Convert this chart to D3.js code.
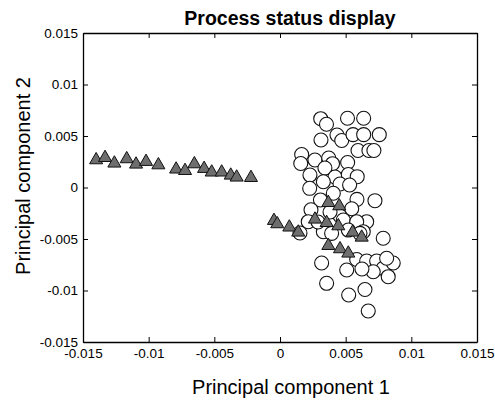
<!DOCTYPE html>
<html>
<head>
<meta charset="utf-8">
<script src="https://cdn.jsdelivr.net/npm/d3@7"></script>
<style>
  body { margin: 0; background: #fff; }
  text { font-family: "Liberation Sans", Arial, Helvetica, sans-serif; fill: #000; }
</style>
</head>
<body>
<div id="chart"></div>
<script>
// tick values and labels
var xTicks = [-0.015, -0.01, -0.005, 0, 0.005, 0.01, 0.015];
var xTickLabels = ["-0.015", "-0.01", "-0.005", "0", "0.005", "0.01", "0.015"];
var yTicks = [-0.015, -0.01, -0.005, 0, 0.005, 0.01, 0.015];
var yTickLabels = ["-0.015", "-0.01", "-0.005", "0", "0.005", "0.01", "0.015"];

// circles (normal operation)
var circleX = [0.00310, 0.00354, 0.00514, 0.00637, 0.00312, 0.00434, 0.00470, 0.00556, 0.00637, 0.00756,
  0.00594, 0.00677, 0.00715, 0.00165, 0.00266, 0.00371, 0.00515, 0.00158, 0.00400, 0.00342,
  0.00228, 0.00419, 0.00520, 0.00588, 0.00330, 0.00457, 0.00530, 0.00226, 0.00406, 0.00308,
  0.00586, 0.00723, 0.00546, 0.00236, 0.00457, 0.00660, 0.00215, 0.00330, 0.00393, 0.00482,
  0.00584, 0.00634, 0.00786, 0.00317, 0.00508, 0.00584, 0.00660, 0.00736, 0.00786, 0.00862,
  0.00710, 0.00624, 0.00824, 0.00355, 0.00523, 0.00647, 0.00672, 0.00520, 0.00609, 0.00812,
  0.00152, 0.00289, 0.00381];
var circleY = [0.00668, 0.00614, 0.00672, 0.00672, 0.00461, 0.00510, 0.00456, 0.00513, 0.00513, 0.00513,
  0.00359, 0.00359, 0.00359, 0.00320, 0.00267, 0.00286, 0.00243, 0.00233, 0.00231, 0.00189,
  0.00121, 0.00102, 0.00126, 0.00105, 0.00056, 0.00034, 0.00024, -0.00008, -0.00056, -0.00121,
  -0.00115, -0.00128, -0.00206, -0.00216, -0.00277, -0.00332, -0.00332, -0.00429, -0.00445, -0.00316,
  -0.00332, -0.00429, -0.00493, -0.00733, -0.00801, -0.00699, -0.00714, -0.00714, -0.00785, -0.00733,
  -0.00818, -0.00791, -0.00866, -0.00930, -0.01044, -0.00990, -0.01199, -0.00413, -0.00445, -0.00687,
  -0.00442, -0.00335, -0.00238];

// triangles (faulty operation)
var triX = [-0.01400, -0.01332, -0.01261, -0.01167, -0.01096, -0.01020, -0.00926, -0.00791, -0.00723, -0.00652,
  -0.00578, -0.00520, -0.00444, -0.00375, -0.00330, -0.00221,
  -0.00046, -0.00021, 0.00071, 0.00139, 0.00266, 0.00355, 0.00444, 0.00368, 0.00451, 0.00553,
  0.00622, 0.00368, 0.00457, 0.00520];
var triY = [0.00267, 0.00289, 0.00235, 0.00277, 0.00225, 0.00251, 0.00218, 0.00177, 0.00163, 0.00228,
  0.00183, 0.00148, 0.00148, 0.00118, 0.00099, 0.00095,
  -0.00322, -0.00354, -0.00386, -0.00435, -0.00309, -0.00342, -0.00374, -0.00148, -0.00180, -0.00435,
  -0.00484, -0.00565, -0.00597, -0.00639];

var vMargin = { mTop: 33, mRight: 18, mBottom: 59, mLeft: 83 },
    vWidth = 495 - vMargin.mLeft - vMargin.mRight,
    vHeight = 401 - vMargin.mTop - vMargin.mBottom;

var svgRoot = d3.select("#chart")
    .append("svg")
    .attr("width", 495)
    .attr("height", 401);

var svg = svgRoot.append("g")
    .attr("transform", "translate(" + vMargin.mLeft + "," + vMargin.mTop + ")");

var vX = d3.scaleLinear().domain([-0.015, 0.015]).range([0, vWidth]);
var vY = d3.scaleLinear().domain([-0.015, 0.015]).range([vHeight, 0]);

// circles first, triangles on top
var vCircles = circleX.map(function (d, i) { return { x: d, y: circleY[i] }; });
var vTris = triX.map(function (d, i) { return { x: d, y: triY[i] }; });

svg.append("g").selectAll("circle")
    .data(vCircles)
    .enter()
    .append("circle")
    .attr("cx", function (d) { return vX(d.x); })
    .attr("cy", function (d) { return vY(d.y); })
    .attr("r", 7)
    .style("fill", "#fff")
    .style("stroke", "#111")
    .style("stroke-width", 1.1);

var vTriPath = d3.symbol().type(d3.symbolTriangle).size(74);
svg.append("g").selectAll("path")
    .data(vTris)
    .enter()
    .append("path")
    .attr("d", vTriPath)
    .attr("transform", function (d) { return "translate(" + vX(d.x) + "," + vY(d.y) + ")"; })
    .style("fill", "#6e6e6e")
    .style("stroke", "#111")
    .style("stroke-width", 1);

// axes, ticks pointing inward on all four sides
function styleAxis(g) {
    g.select(".domain").attr("stroke", "#000").attr("stroke-width", 1.3);
    g.selectAll(".tick line").attr("stroke", "#000").attr("stroke-width", 1);
    g.selectAll("text").style("font-size", "13.5px").attr("fill", "#000");
}

svg.append("g")
    .attr("transform", "translate(0," + vHeight + ")")
    .call(d3.axisBottom(vX).tickValues(xTicks).tickSizeInner(-5).tickSizeOuter(0).tickPadding(6)
        .tickFormat(function (d, i) { return xTickLabels[i]; }))
    .call(styleAxis);

svg.append("g")
    .call(d3.axisLeft(vY).tickValues(yTicks).tickSizeInner(-5).tickSizeOuter(0).tickPadding(5)
        .tickFormat(function (d, i) { return yTickLabels[i]; }))
    .call(styleAxis);

svg.append("g")
    .call(d3.axisTop(vX).tickValues(xTicks).tickSizeInner(-5).tickSizeOuter(0).tickFormat(""))
    .call(styleAxis);

svg.append("g")
    .attr("transform", "translate(" + vWidth + ",0)")
    .call(d3.axisRight(vY).tickValues(yTicks).tickSizeInner(-5).tickSizeOuter(0).tickFormat(""))
    .call(styleAxis);

// title and axis labels
svgRoot.append("text")
    .attr("x", 290)
    .attr("y", 25)
    .attr("text-anchor", "middle")
    .style("font-size", "19.5px")
    .style("font-weight", "bold")
    .text("Process status display");

svgRoot.append("text")
    .attr("x", 291)
    .attr("y", 394)
    .attr("text-anchor", "middle")
    .style("font-size", "20px")
    .text("Principal component 1");

svgRoot.append("text")
    .attr("transform", "translate(29.5,176) rotate(-90)")
    .attr("text-anchor", "middle")
    .style("font-size", "20px")
    .text("Principal component 2");
</script>
</body>
</html>
